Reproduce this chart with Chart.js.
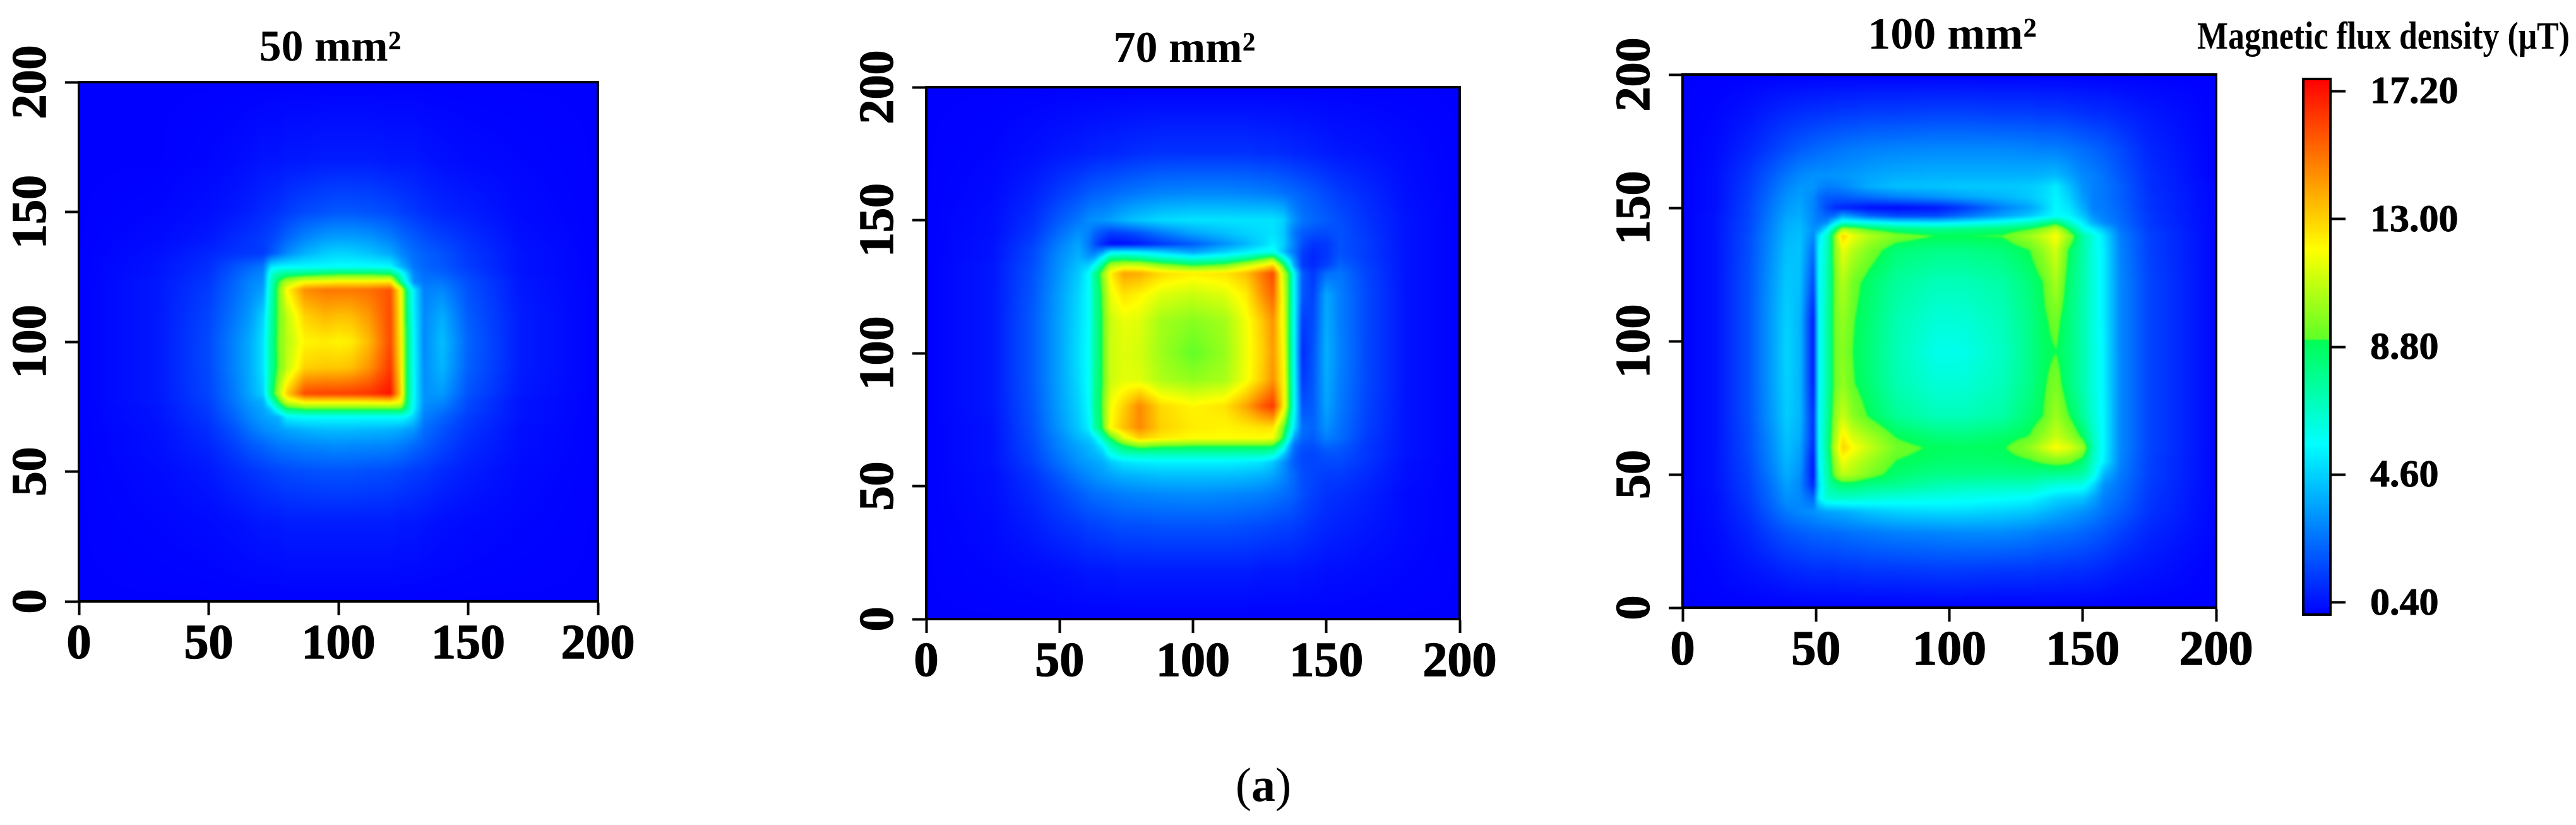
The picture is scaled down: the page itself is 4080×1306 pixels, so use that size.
<!DOCTYPE html>
<html><head><meta charset="utf-8">
<script src="https://cdn.jsdelivr.net/npm/chart.js@4/dist/chart.umd.min.js"></script>
<style>
html,body{margin:0;padding:0;background:#fff;width:4080px;height:1306px;overflow:hidden}
canvas{position:absolute;top:0}
#cap{position:absolute;left:1801px;width:400px;top:1198px;text-align:center;font:76px 'Liberation Serif';line-height:88px;color:#000}
</style></head><body>
<div id="cap">(<b>a</b>)</div>
<canvas id="c50"></canvas><canvas id="c70"></canvas><canvas id="c100"></canvas><canvas id="cbar"></canvas>
<script>
const axisTicks=[0,50,100,150,200];
const barTicks=[0.4,4.6,8.8,13,17.2];
const titles=["50 mm²","70 mm²","100 mm²"];
const barTitle="Magnetic flux density (μT)";

const x50=[0,30,50,60,66,71,74,77,80,87,95,100,105,112,120,124,126,129,133,140,150,170,200];
const y50=[200,170,150,140,134,129,126,123,120,110,100,90,80,77,74,71,66,60,50,30,0];
const v50=[
[0,0,0,0,0,0,0,0,0,0,0,0,0,0,0,0,0,0,0,0,0,0,0],
[0,0,.1,.2,.3,.4,.4,.4,.5,.5,.6,.6,.6,.6,.5,.5,.5,.5,.4,.3,.2,.1,0],
[0,.1,.3,.5,.7,.9,1,1.1,1.3,1.6,1.8,1.9,1.9,1.8,1.6,1.4,1.3,1.2,1,.8,.6,.2,0],
[0,.2,.5,.9,1.1,1.3,1.5,1.8,2.2,2.9,3.4,3.5,3.5,3.3,2.8,2.4,2.2,2,1.7,1.4,1,.3,0],
[0,.3,.8,1.1,1.2,1.3,1.8,2.4,3,3.9,4.5,4.7,4.6,4.3,3.7,3,2.7,2.4,2.1,1.8,1.2,.4,0],
[0,.4,1,1.8,2.2,2.6,5,5.3,5.4,5.5,5.5,5.6,5.6,5.6,5.5,4,3.4,2.6,2.2,1.9,1.3,.4,0],
[0,.4,1.1,2,2.6,3,6.5,7.6,8,8.4,8.8,9,9,9,8.8,6.5,5,3,2.4,2.2,1.5,.4,0],
[0,.5,1.2,2.2,2.9,3.2,6.8,9,10.5,12,12.2,12.4,12.4,12.4,12.6,8,6,3.2,2.6,2.6,1.7,.5,0],
[0,.5,1.3,2.3,3,3.5,7,9.5,12,14.5,15,15,15,15.2,15.8,12,8.5,5.2,2.8,3,1.8,.5,0],
[0,.5,1.5,2.6,3.4,4.6,7.4,9.4,10.8,13,13.6,13.4,13.5,14.3,16,12.2,8.8,5.4,3,3.8,2,.6,0],
[0,.5,1.6,2.9,3.8,5,7.6,9.5,10.6,12.2,12.4,12.2,12.4,13.6,16,12.4,9,5.6,3,4.2,2.2,.6,0],
[0,.5,1.6,2.9,3.8,5,7.6,9.4,10.8,13,13.2,13.2,13.4,14.4,16.4,12.6,9,5.6,3.1,4,2.1,.6,0],
[0,.5,1.5,2.7,3.7,4.6,8,10.5,13,16,16.2,16.2,16.3,16.5,17.2,13,9,5.6,3.2,3.4,1.8,.5,0],
[0,.5,1.4,2.6,3.4,3.9,6.5,9,11.2,12.5,12.5,12.5,12.5,12.6,12.8,12,8.8,5.6,3.2,3,1.6,.4,0],
[0,.4,1.3,2.4,3.2,3.6,4.5,6.5,8.4,9,9,9,9,9,9,9,8,5.4,3,2.6,1.5,.4,0],
[0,.4,1.2,2.2,3,3.5,3.7,3.9,5.3,5.6,5.6,5.6,5.6,5.6,5.6,5.6,5.4,4.6,2.8,2.2,1.3,.4,0],
[0,.3,1,1.8,2.5,3,3.2,3.4,3.6,3.9,4.1,4.1,4.1,4,3.9,3.7,3.5,3.3,2.4,1.8,1.1,.3,0],
[0,.3,.8,1.4,1.9,2.2,2.4,2.6,2.7,2.9,3,3.1,3,3,2.9,2.7,2.6,2.3,2,1.5,.9,.3,0],
[0,.2,.5,.9,1.1,1.3,1.4,1.5,1.6,1.7,1.8,1.8,1.8,1.7,1.6,1.5,1.4,1.3,1.2,.9,.6,.2,0],
[0,.1,.2,.3,.4,.5,.5,.5,.6,.6,.6,.6,.6,.6,.6,.5,.5,.5,.4,.3,.2,.1,0],
[0,0,0,0,0,0,0,0,0,0,0,0,0,0,0,0,0,0,0,0,0,0,0]];

const x70=[0,25,40,50,57,61,63,66,69,74,80,88,100,112,120,126,130,134,136,138,141,145,150,155,165,180,200];
const y70=[200,175,160,150,145,141,138,136,133,130,122,112,100,90,80,72,68,65,62,59,54,47,35,18,0];
const v70=[
[0,0,0,0,0,0,0,0,0,0,0,0,0,0,0,0,0,0,0,0,0,0,0,0,0,0,0],
[0,.1,.3,.5,.6,.7,.7,.8,.8,.9,1,1.1,1.1,1.1,1.1,1,1,.9,.9,.8,.8,.7,.6,.5,.4,.2,0],
[0,.2,.7,1.3,1.7,2,2.1,2.2,2.3,2.5,2.7,2.9,3,3,2.9,2.8,2.7,2.5,2.4,2.3,2.1,1.9,1.6,1.3,.9,.3,0],
[0,.3,1,2,2.6,3.1,3.2,3.3,3.5,4,4.4,4.8,5,5,5,5,5,4.6,3.8,3.2,2.6,2.3,2,1.7,1.1,.4,0],
[0,.3,1.2,2.4,3.2,2.8,2.2,1.7,1.3,1.4,1.8,2.6,3.6,4.2,4.6,4.8,5,4.4,3.4,2.6,2,1.7,1.6,1.8,1.2,.4,0],
[0,.4,1.4,2.8,3.6,2.6,1.8,.9,.3,.3,.6,1.2,2,3.2,4,4.7,5.3,4.6,3.6,2.8,1.7,1.1,1.2,1.8,1.3,.4,0],
[0,.4,1.6,3,3.8,3,2.6,3.4,5.2,5.4,5.2,4.6,3.6,4.6,5.3,5.8,6,4.2,3.2,2.6,1.4,.9,1.2,1.8,1.3,.4,0],
[0,.4,1.6,3.1,3.9,3.4,3.6,5.4,7.6,7.8,7.4,6.6,5.8,6.4,7.4,8.6,9.2,6,4.4,3,1.3,.8,1.2,1.9,1.3,.4,0],
[0,.5,1.7,3.2,4.2,4.6,5.6,8,10.4,11,11,10,9,9.6,11,12,13,9,6.5,3.6,1.3,.9,1.4,2.2,1.4,.4,0],
[0,.5,1.8,3.3,4.4,5.6,7.6,9.6,12.2,14,13.8,12.8,12.3,12.6,13.4,15,16,10.8,8.8,5.5,2,1.2,2.4,2.6,1.5,.4,0],
[0,.5,1.9,3.5,4.7,5.6,7.4,9.2,11.6,12.6,12.2,11.4,11,11.4,12.4,14.4,15.4,11.4,8.8,5.6,1.9,1.4,3.7,2.8,1.6,.4,0],
[0,.5,2,3.6,4.8,5.6,7.4,9,11,11.6,11.4,10.3,9.8,10.3,11.8,13.2,14.4,11.6,8.8,5.6,1.3,1.6,3.8,2.8,1.6,.4,0],
[0,.5,2,3.6,4.9,5.7,7.4,9,11,11.4,11.2,10.2,9.1,10.1,11.7,13,14.2,12,8.9,5.6,.9,1.8,3.9,2.9,1.6,.4,0],
[0,.5,2,3.6,4.8,5.7,7.5,9,11,11.5,11.4,10.5,10,10.4,11.8,13.2,14.4,12.2,9,5.7,1.2,1.9,3.8,2.8,1.6,.4,0],
[0,.5,1.9,3.5,4.6,5.6,7.6,9.2,11.8,13,14.6,12.8,12.2,12.6,14,15.6,16.4,12.4,9,5.8,1.8,2,3.6,2.7,1.5,.4,0],
[0,.4,1.8,3.3,4.4,5.3,7.2,9,12,13.4,14.6,13,12.4,12.2,12.4,12.6,12.6,9.4,7.4,5,2.4,2.2,3.2,2.5,1.4,.4,0],
[0,.4,1.7,3,4,4.4,5,6.8,8.8,11.4,13,12.4,12,12,12,12,11.8,8.6,5.8,3.4,2.2,2,2.8,2.4,1.3,.4,0],
[0,.4,1.6,2.9,3.6,4,4.3,5.2,7,8.6,9.6,9.2,9,9,9,9,8.8,6.4,4,2.4,1.8,1.7,2.2,2,1.2,.4,0],
[0,.4,1.5,2.7,3.4,3.8,4,4.4,5.8,6.8,7,7,7,7,7,7,6.6,4.4,3.2,2.2,1.6,1.5,1.8,1.8,1.2,.4,0],
[0,.4,1.4,2.5,3.2,3.5,3.6,3.8,4.4,5,5.2,5.3,5.3,5.3,5.2,5,4.4,3.2,2.6,2,1.6,1.5,1.6,1.6,1.1,.3,0],
[0,.3,1.1,2,2.7,3,3.2,3.4,3.6,3.9,4,4.2,4.2,4.2,4.1,3.9,3.6,3,2.6,2.3,1.7,1.5,1.3,1.3,.9,.3,0],
[0,.3,.9,1.5,2,2.3,2.4,2.5,2.6,2.8,2.9,3,3.1,3,2.9,2.8,2.6,2.4,2.3,2.1,1.7,1.4,1.1,1,.7,.2,0],
[0,.2,.6,1,1.2,1.4,1.4,1.5,1.6,1.7,1.7,1.8,1.8,1.8,1.7,1.6,1.5,1.4,1.4,1.3,1.2,1,.8,.7,.5,.2,0],
[0,.1,.2,.3,.4,.5,.5,.5,.5,.6,.6,.6,.6,.6,.6,.5,.5,.5,.5,.5,.4,.4,.3,.3,.2,.1,0],
[0,0,0,0,0,0,0,0,0,0,0,0,0,0,0,0,0,0,0,0,0,0,0,0,0,0,0]];

const x100=[0,12,25,33,39,44,49,51,54,57,60,64,70,80,95,105,120,130,135,140,145,150,154,158,164,175,200];
const y100=[200,185,172,162,158,154,150,147,144.5,142,139.5,134,122,108,96,84,72,64,60,55,50,46,41,36,28,14,0];
const v100=[
[0,0,0,0,0,0,0,0,0,0,0,0,0,0,0,0,0,0,0,0,0,0,0,0,0,0,0],
[0,.1,.4,.7,.9,1,1.1,1.1,1.2,1.2,1.3,1.3,1.4,1.4,1.5,1.5,1.4,1.4,1.3,1.3,1.2,1.1,1,1,.8,.5,0],
[0,.2,.8,1.3,1.7,2,2.2,2.3,2.4,2.5,2.6,2.7,2.8,2.9,3,3,3,2.9,2.8,2.8,2.6,2.4,2.2,2,1.6,.8,0],
[0,.3,1.2,2,2.6,3,3.2,3.2,3.2,3.3,3.3,3.4,3.6,3.8,3.9,3.9,3.9,3.9,4,4.1,3.6,3,2.8,2.5,1.9,1,0],
[0,.3,1.3,2.2,2.9,3.3,3.3,3,2.8,2.8,3,3.3,3.8,4.2,4.3,4.4,4.4,4.5,4.7,5.2,4.2,3.2,2.8,2.6,2.1,1,.1],
[0,.3,1.4,2.4,3.2,3.5,3,2.4,2,2,2,2.2,2.4,2.8,3.2,3.6,4,4.4,4.8,5.4,4.6,3.4,2.8,2.6,2.1,1.1,.1],
[0,.3,1.5,2.6,3.4,3.7,2.9,2.4,1.6,1,.8,.6,.3,.2,.5,1.2,2.8,3.6,4.4,5.5,5,3.8,2.8,2.7,2.2,1.1,.1],
[0,.4,1.5,2.7,3.6,3.8,3,2.6,2.2,2.4,3.6,3,2.2,1.6,1.6,2.4,3.6,4.4,5,5.6,5.4,4.4,3.2,2.8,2.3,1.2,.1],
[0,.4,1.6,2.8,3.8,4,3,2.8,3,5,6.4,6.2,5.8,5.2,5,5.3,6,6.8,7.6,8.4,6.6,5.2,3.8,3,2.4,1.2,.1],
[0,.4,1.6,2.9,3.9,4.1,3.2,3.4,5.2,8,10.4,10,9,8.3,7.8,8,8.4,9,9.8,11,8.6,6,5.2,4.2,2.6,1.3,.1],
[0,.4,1.7,3,4,4.2,3,5,6.6,9.8,13,11.6,10.6,9.6,9,9,9.1,10.2,11,12,10,7.4,6.2,5,2.8,1.4,.1],
[0,.4,1.7,3.1,4.2,4.3,2.4,5.4,6.8,9.6,11.6,10.6,9.6,8.4,8,8,8.3,9,10,11.2,8.8,7.4,6.2,5.2,2.9,1.4,.1],
[0,.4,1.8,3.3,4.4,4.2,1.6,5.5,7,9.4,10.6,9.4,8.6,7.6,7,7,7.4,8.3,9,10.4,8.4,7.3,6.3,5.2,3,1.5,.1],
[0,.4,1.8,3.4,4.6,4,.6,5.4,7.2,9.4,10,9.1,8.4,7.2,6.4,6.4,7,8,8.8,9.4,8.2,7.2,6.3,5.2,3,1.5,.1],
[0,.4,1.8,3.4,4.7,4,.6,5.4,7.2,9.3,9.8,9,8.3,7.1,6,6,6.8,7.9,8.7,9,8.2,7.2,6.3,5.3,3,1.5,.1],
[0,.4,1.8,3.4,4.6,4,.6,5.4,7.2,9.3,10,9.1,8.4,7.2,6.4,6.4,7,8,8.8,9.6,8.2,7.2,6.3,5.3,3,1.5,.1],
[0,.4,1.8,3.3,4.5,4,1,5.5,7.4,9.8,11,9.8,8.9,7.7,7,7,7.4,8.4,9,10.2,9,7.6,6.4,5.4,3,1.5,.1],
[0,.4,1.7,3.1,4.3,3.8,1,5.4,7.6,10.2,12.4,11.2,10.4,9,8.3,8.2,8.6,9.1,10,11,10.2,8.8,6.8,5.4,3,1.5,.1],
[0,.4,1.7,3,4.2,3.6,.8,5.4,7.6,10.6,13,12,10.9,9.4,8.85,8.8,8.9,9.9,11,12,11.4,10.2,7,5.4,3,1.5,.1],
[0,.4,1.6,2.9,4,3.4,.5,5.3,7.4,10,11.8,11,10.2,9,8.6,8.5,8.6,8.9,9.3,9.6,9.4,8.5,6.6,5.3,2.9,1.4,.1],
[0,.4,1.5,2.7,3.8,3.2,.4,5,7.2,9.6,10.8,10.4,9.6,8.5,8,8,7.9,8,7.8,7.8,7.7,7.4,6.2,4,2.7,1.4,.1],
[0,.4,1.4,2.5,3.5,3,.8,4.8,7,8,8.4,8.4,8,7.8,7.2,7,6.9,6.9,6.6,6.2,6.2,6,4.8,3.2,2.5,1.3,.1],
[0,.3,1.3,2.3,3.2,3,2.2,5.2,6.5,6.6,6.6,6.6,6.4,6.2,6,5.9,5.7,5.5,5.1,4.7,4.5,4.3,3.6,2.8,2.3,1.2,.1],
[0,.3,1.1,2,2.7,3,3.2,3.4,3.6,3.7,3.8,4,4.3,4.6,4.8,4.8,4.6,4.4,4.1,3.8,3.5,3.2,2.9,2.5,2,1.1,.1],
[0,.2,.8,1.4,1.8,2,2.2,2.2,2.3,2.3,2.4,2.5,2.6,2.8,2.9,3,3,2.8,2.6,2.5,2.4,2.2,2,1.8,1.4,.8,.1],
[0,.1,.4,.6,.8,.9,1,1,1,1,1.1,1.1,1.2,1.2,1.3,1.3,1.2,1.2,1.1,1.1,1,1,.9,.8,.6,.4,0],
[0,0,0,0,0,0,0,0,0,0,0,0,0,0,0,0,0,0,0,0,0,0,0,0,0,0,0]];

const barX=[0,1];
const barY=[17.6,13,8.8,4.6,0.4,0];
const barV=[[17.6,17.6],[13,13],[8.8,8.8],[4.6,4.6],[0.4,0.4],[0,0]];

// colour scale
const colorStops=[[0,0,0,255],[5.6,0,255,255],[9,0,255,85],[9.06,95,255,40],[12,255,255,0],[17.6,255,0,0]];

const FONT="'Liberation Serif'";
Chart.defaults.font.family=FONT;
Chart.defaults.color='#000';

function colorOf(v){
  const s=colorStops;
  if(v<=s[0][0])return s[0].slice(1);
  for(let i=1;i<s.length;i++){
    if(v<=s[i][0]){
      const t=(v-s[i-1][0])/(s[i][0]-s[i-1][0]);
      return [1,2,3].map(k=>s[i-1][k]+(s[i][k]-s[i-1][k])*t);
    }
  }
  return s[s.length-1].slice(1);
}

function fieldPlugin(xs,ys,rows,blur){
  return {
    id:'field',
    beforeDatasetsDraw(chart){
      const a=chart.chartArea, sx=chart.scales.x, sy=chart.scales.y;
      const W=Math.ceil(a.right-a.left), H=Math.ceil(a.bottom-a.top);
      const off=document.createElement('canvas'); off.width=W; off.height=H;
      const oc=off.getContext('2d'), img=oc.createImageData(W,H);
      const px=xs.map(v=>sx.getPixelForValue(v)), py=ys.map(v=>sy.getPixelForValue(v));
      let j0=0;
      for(let j=0;j<H;j++){
        const Y=a.top+j+.5;
        while(j0<py.length-2&&Y>py[j0+1])j0++;
        const ty=Math.min(1,Math.max(0,(Y-py[j0])/(py[j0+1]-py[j0])));
        let i0=0;
        for(let i=0;i<W;i++){
          const X=a.left+i+.5;
          while(i0<px.length-2&&X>px[i0+1])i0++;
          const tx=Math.min(1,Math.max(0,(X-px[i0])/(px[i0+1]-px[i0])));
          const v=(rows[j0][i0]*(1-tx)+rows[j0][i0+1]*tx)*(1-ty)+(rows[j0+1][i0]*(1-tx)+rows[j0+1][i0+1]*tx)*ty;
          const c=colorOf(v), o=(j*W+i)*4;
          img.data[o]=c[0];img.data[o+1]=c[1];img.data[o+2]=c[2];img.data[o+3]=255;
        }
      }
      oc.putImageData(img,0,0);
      const ctx=chart.ctx;
      ctx.save();
      ctx.beginPath();ctx.rect(a.left,a.top,a.right-a.left,a.bottom-a.top);ctx.clip();
      ctx.drawImage(off,a.left,a.top);
      if(blur){ctx.filter='blur('+blur+'px)';ctx.drawImage(off,a.left,a.top);ctx.filter='none';}
      ctx.restore();
    }
  };
}
const framePlugin={id:'frame',afterDraw(chart){
  const a=chart.chartArea,c=chart.ctx;
  c.save();c.strokeStyle='#000';c.lineWidth=4;
  c.strokeRect(a.left,a.top,a.right-a.left,a.bottom-a.top);c.restore();
}};

function points(xs,ys,rows){
  const out=[];
  ys.forEach((y,j)=>xs.forEach((x,i)=>out.push({x,y,v:rows[j][i]})));
  return out;
}
function fixTicks(list){return s=>{s.ticks=list.map(v=>({value:v}));};}

const yW=115,xH=120,rowOffset=73;
function panel(id,cfg){
  const cv=document.getElementById(id);
  const L=cfg.left-yW, R=2*cfg.tc-L;
  cv.style.left=L+'px';cv.width=R-L;cv.height=1306;
  new Chart(cv,{
    type:'scatter',
    data:{datasets:[{label:cfg.title,data:points(cfg.xs,cfg.ys,cfg.rows),pointRadius:0,showLine:false}]},
    plugins:[fieldPlugin(cfg.xs,cfg.ys,cfg.rows,1.6),framePlugin],
    options:{
      responsive:false,animation:false,devicePixelRatio:1,
      layout:{padding:{left:0,right:0,top:0,bottom:1306-cfg.bottom-xH}},
      plugins:{legend:{display:false},tooltip:{enabled:false},
        title:{display:true,text:cfg.title,color:'#000',
          font:{size:cfg.ts,weight:'bold',family:FONT,lineHeight:1},
          padding:{top:cfg.ty-cfg.ts/2,bottom:cfg.top-cfg.ty-cfg.ts/2}}},
      scales:{
        x:{type:'linear',min:0,max:200,afterBuildTicks:fixTicks(axisTicks),
          afterFit(s){s.height=xH;s.paddingLeft=0;s.paddingRight=R-cfg.right;},
          grid:{drawOnChartArea:false,tickLength:22,tickWidth:4,tickColor:'#000'},
          border:{display:true,color:'#000',width:4},
          ticks:{autoSkip:false,maxRotation:0,minRotation:0,padding:9,color:'#000',
            textStrokeColor:'#000',textStrokeWidth:1.5,
            font:{size:78,weight:'bold',family:FONT,lineHeight:1}}},
        y:{type:'linear',min:0,max:200,afterBuildTicks:fixTicks(axisTicks),
          afterFit(s){
            s.width=yW;s.paddingTop=0;s.paddingBottom=0;
            if(!s._wrapped){
              s._wrapped=true;
              const orig=s._computeLabelItems;
              s._computeLabelItems=function(ca){
                const items=orig.call(this,ca);
                items.forEach(it=>{it.options.textAlign='center';it.options.textBaseline='middle';
                  it.options.translation=[yW-rowOffset+this.left,it.options.translation[1]];});
                return items;
              };
            }
          },
          grid:{drawOnChartArea:false,tickLength:22,tickWidth:4,tickColor:'#000'},
          border:{display:true,color:'#000',width:4},
          ticks:{autoSkip:false,minRotation:90,maxRotation:90,padding:9,color:'#000',
            textStrokeColor:'#000',textStrokeWidth:1.5,
            font:{size:78,weight:'bold',family:FONT,lineHeight:1}}}
      }
    }
  });
}
panel('c50',{tc:523,left:125,right:947,top:130,bottom:952,ty:78,ts:70,title:titles[0],xs:x50,ys:y50,rows:v50});
panel('c70',{tc:1876,left:1467,right:2312,top:138,bottom:980,ty:80,ts:70,title:titles[1],xs:x70,ys:y70,rows:v70});
panel('c100',{tc:3092,left:2665,right:3510,top:118,bottom:962,ty:58,ts:72,title:titles[2],xs:x100,ys:y100,rows:v100});

(function(){
  const cv=document.getElementById('cbar'),L=3480,R=4070,left=3648,right=3691,top=125,bottom=973,ty=61,ts=61;
  cv.style.left=L+'px';cv.width=R-L;cv.height=1306;
  new Chart(cv,{
    type:'scatter',
    data:{datasets:[{label:barTitle,data:points(barX,barY,barV),pointRadius:0,showLine:false}]},
    plugins:[fieldPlugin(barX,barY,barV,0),framePlugin],
    options:{
      responsive:false,animation:false,devicePixelRatio:1,
      layout:{padding:{left:0,right:0,top:0,bottom:1306-bottom}},
      plugins:{legend:{display:false},tooltip:{enabled:false},
        title:{display:true,text:barTitle,color:'#000',font:{size:ts,weight:'bold',family:FONT,lineHeight:1},
          padding:{top:ty-ts/2,bottom:top-ty-ts/2}}},
      scales:{
        x:{type:'linear',min:0,max:1,display:false},
        y:{type:'linear',position:'right',min:0,max:17.6,afterBuildTicks:fixTicks(barTicks),
          afterFit(s){
            s.width=R-right;s.paddingTop=0;s.paddingBottom=0;s.paddingLeft=left-L;
            if(!s._wrapped){
              s._wrapped=true;
              const orig=s._computeLabelItems;
              s._computeLabelItems=function(ca){
                const items=orig.call(this,ca);
                items.forEach(it=>{it.options.translation=[it.options.translation[0],it.options.translation[1]+3];});
                return items;
              };
            }
          },
          grid:{drawOnChartArea:false,tickLength:24,tickWidth:4,tickColor:'#000'},
          border:{display:true,color:'#000',width:4},
          ticks:{autoSkip:false,padding:39,color:'#000',callback:v=>v.toFixed(2),
            textStrokeColor:'#000',textStrokeWidth:1,
            font:{size:62,weight:'bold',family:FONT,lineHeight:1}}}
      }
    }
  });
})();
</script>
</body></html>
